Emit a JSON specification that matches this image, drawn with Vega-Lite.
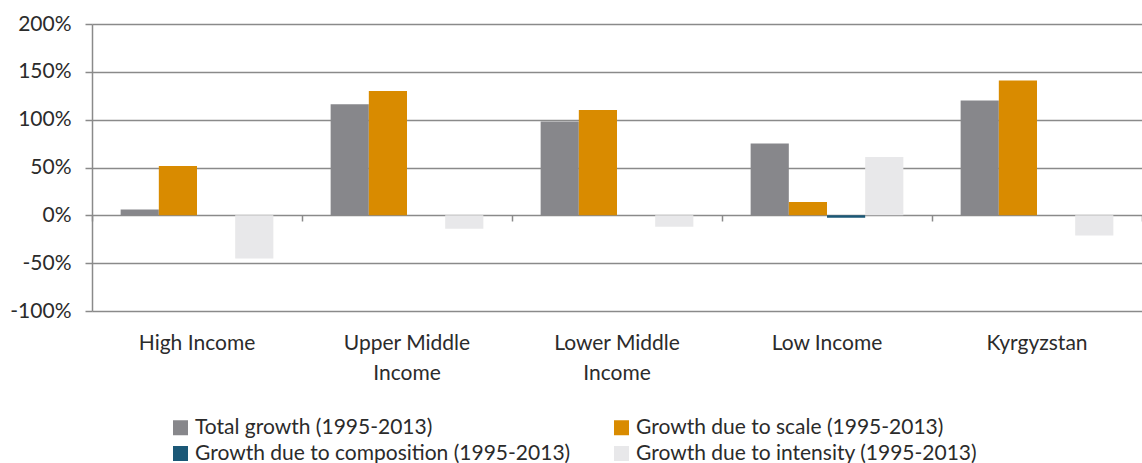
{
  "$schema": "https://vega.github.io/schema/vega-lite/v6.json",
  "width": 1050,
  "height": 287,
  "autosize": "none",
  "padding": {"left": 92, "top": 24, "right": 0, "bottom": 152},
  "background": "white",
  "config": {"view": {"stroke": null}, "font": "Lato"},
  "data": {
    "values": [
      {"category": "High Income", "series": "Total growth (1995-2013)", "value": 0.06},
      {"category": "High Income", "series": "Growth due to scale (1995-2013)", "value": 0.515},
      {"category": "High Income", "series": "Growth due to composition (1995-2013)", "value": 0.0},
      {"category": "High Income", "series": "Growth due to intensity (1995-2013)", "value": -0.45},
      {"category": "Upper Middle Income", "series": "Total growth (1995-2013)", "value": 1.16},
      {"category": "Upper Middle Income", "series": "Growth due to scale (1995-2013)", "value": 1.30},
      {"category": "Upper Middle Income", "series": "Growth due to composition (1995-2013)", "value": 0.0},
      {"category": "Upper Middle Income", "series": "Growth due to intensity (1995-2013)", "value": -0.14},
      {"category": "Lower Middle Income", "series": "Total growth (1995-2013)", "value": 0.98},
      {"category": "Lower Middle Income", "series": "Growth due to scale (1995-2013)", "value": 1.10},
      {"category": "Lower Middle Income", "series": "Growth due to composition (1995-2013)", "value": 0.0},
      {"category": "Lower Middle Income", "series": "Growth due to intensity (1995-2013)", "value": -0.12},
      {"category": "Low Income", "series": "Total growth (1995-2013)", "value": 0.75},
      {"category": "Low Income", "series": "Growth due to scale (1995-2013)", "value": 0.14},
      {"category": "Low Income", "series": "Growth due to composition (1995-2013)", "value": -0.025},
      {"category": "Low Income", "series": "Growth due to intensity (1995-2013)", "value": 0.61},
      {"category": "Kyrgyzstan", "series": "Total growth (1995-2013)", "value": 1.20},
      {"category": "Kyrgyzstan", "series": "Growth due to scale (1995-2013)", "value": 1.41},
      {"category": "Kyrgyzstan", "series": "Growth due to composition (1995-2013)", "value": 0.0},
      {"category": "Kyrgyzstan", "series": "Growth due to intensity (1995-2013)", "value": -0.21}
    ]
  },
  "resolve": {"axis": {"x": "independent"}},
  "layer": [
    {
      "mark": {"type": "bar"},
      "encoding": {
        "x": {
          "field": "category",
          "type": "nominal",
          "sort": ["High Income", "Upper Middle Income", "Lower Middle Income", "Low Income", "Kyrgyzstan"],
          "scale": {"paddingInner": 0, "paddingOuter": 0},
          "axis": {
            "title": null,
            "orient": "bottom",
            "labelAngle": 0,
            "domain": false,
            "ticks": false,
            "grid": false,
            "labelFontSize": 21,
            "labelColor": "#2b2b2b",
            "labelPadding": 32,
            "labelLineHeight": 30,
            "labelBaseline": "middle",
            "labelExpr": "datum.label == 'Upper Middle Income' ? ['Upper Middle', 'Income'] : datum.label == 'Lower Middle Income' ? ['Lower Middle', 'Income'] : datum.label"
          }
        },
        "xOffset": {
          "field": "series",
          "type": "nominal",
          "sort": ["Total growth (1995-2013)", "Growth due to scale (1995-2013)", "Growth due to composition (1995-2013)", "Growth due to intensity (1995-2013)"],
          "scale": {"paddingInner": 0, "paddingOuter": 0.75}
        },
        "y": {
          "field": "value",
          "type": "quantitative",
          "scale": {"domain": [-1, 2], "nice": false},
          "axis": {
            "title": null,
            "format": ".0%",
            "labelExpr": "replace(datum.label, '\u2212', '-')",
            "values": [-1, -0.5, 0, 0.5, 1, 1.5, 2],
            "domainColor": "#8a8a8a",
            "domainWidth": 1.5,
            "tickColor": "#8a8a8a",
            "tickWidth": 1.5,
            "tickSize": 7,
            "gridColor": "#8a8a8a",
            "gridWidth": 1.5,
            "labelFontSize": 21,
            "labelColor": "#2b2b2b",
            "labelPadding": 14
          }
        },
        "color": {
          "field": "series",
          "type": "nominal",
          "scale": {
            "domain": ["Total growth (1995-2013)", "Growth due to composition (1995-2013)", "Growth due to scale (1995-2013)", "Growth due to intensity (1995-2013)"],
            "range": ["#87878b", "#1b5877", "#d98b00", "#e8e8ea"]
          },
          "legend": {
            "title": null,
            "orient": "none",
            "legendX": 78,
            "legendY": 393,
            "columns": 2,
            "columnPadding": 40,
            "rowPadding": 4,
            "symbolType": "square",
            "symbolSize": 225,
            "symbolStrokeWidth": 0,
            "symbolOpacity": 1,
            "labelFontSize": 21,
            "labelColor": "#2b2b2b",
            "labelLimit": 500,
            "labelOffset": 4
          }
        }
      }
    },
    {
      "mark": {"type": "tick", "opacity": 0},
      "encoding": {
        "x": {
          "field": "category",
          "type": "nominal",
          "sort": ["High Income", "Upper Middle Income", "Lower Middle Income", "Low Income", "Kyrgyzstan"],
          "axis": {
            "title": null,
            "orient": "bottom",
            "labels": false,
            "domain": false,
            "grid": false,
            "ticks": true,
            "tickBand": "extent",
            "tickSize": 6,
            "tickColor": "#8a8a8a",
            "tickWidth": 1.5,
            "offset": -96
          }
        }
      }
    }
  ]
}
